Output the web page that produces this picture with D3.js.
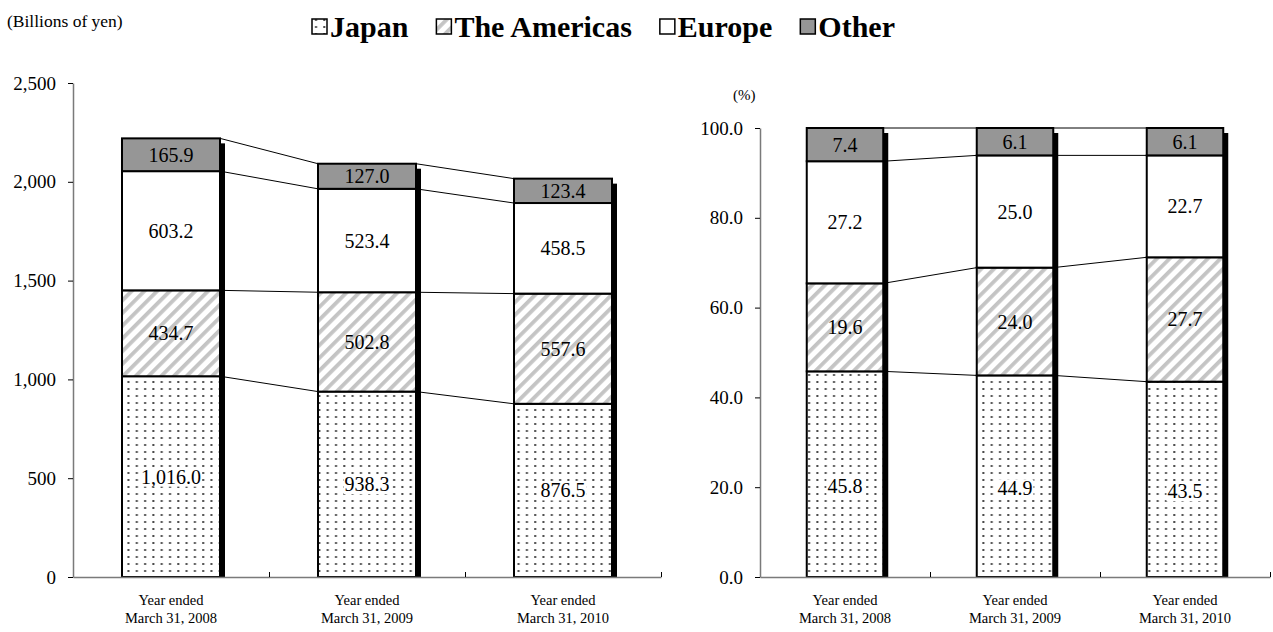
<!DOCTYPE html>
<html>
<head>
<meta charset="utf-8">
<script src="https://cdn.jsdelivr.net/npm/d3@7"></script>
<style>
  body { margin: 0; background: #fff; }
  svg { display: block; font-family: "Liberation Serif", "Times New Roman", serif; }
</style>
</head>
<body>
<svg id="chart" width="1273" height="632"></svg>
<script>
// Data
const regions = ['Japan', 'The Americas', 'Europe', 'Other'];
const periods = ['March 31, 2008', 'March 31, 2009', 'March 31, 2010'];

// Sales, billions of yen
const japanYen = [1016.0, 938.3, 876.5];
const americasYen = [434.7, 502.8, 557.6];
const europeYen = [603.2, 523.4, 458.5];
const otherYen = [165.9, 127.0, 123.4];

// Composition, %
const japanPct = [45.8, 44.9, 43.5];
const americasPct = [19.6, 24.0, 27.7];
const europePct = [27.2, 25.0, 22.7];
const otherPct = [7.4, 6.1, 6.1];

const yenTicks = [0, 500, 1000, 1500, 2000, 2500];
const pctTicks = [0, 20, 40, 60, 80, 100];

const fills = ['url(#dots)', 'url(#hatch)', '#ffffff', '#969696'];

const svg = d3.select('#chart');

// patterns
const defs = svg.append('defs');
const dots = defs.append('pattern').attr('id', 'dots')
    .attr('patternUnits', 'userSpaceOnUse').attr('width', 8.3).attr('height', 7);
dots.append('rect').attr('width', 8.3).attr('height', 7).attr('fill', '#fff');
dots.append('rect').attr('x', 3).attr('y', 3).attr('width', 2).attr('height', 2).attr('fill', '#4a4a4a');

const hatch = defs.append('pattern').attr('id', 'hatch')
    .attr('patternUnits', 'userSpaceOnUse').attr('width', 9).attr('height', 9)
    .attr('patternTransform', 'rotate(45)');
hatch.append('rect').attr('width', 9).attr('height', 9).attr('fill', '#fff');
hatch.append('rect').attr('x', 0).attr('width', 3.8).attr('height', 9).attr('fill', '#c4c4c4');

// build rows for d3.stack
function makeRows(series) {
    return periods.map((p, i) => {
        const row = { period: p };
        regions.forEach((r, k) => { row[r] = series[k][i]; });
        return row;
    });
}

function drawChart(opts) {
    const rows = makeRows(opts.series);
    const stacked = d3.stack().keys(regions)(rows);

    const x = d3.scaleBand().domain(periods).range([opts.left, opts.right])
        .paddingInner(opts.pad).paddingOuter(opts.pad / 2);
    const y = d3.scaleLinear().domain([0, opts.max]).range([opts.bottom, opts.top]);
    const bw = x.bandwidth();

    const g = svg.append('g');

    // connector lines between bars
    const conn = g.append('g');
    for (let i = 0; i < periods.length - 1; i++) {
        stacked.forEach(layer => {
            conn.append('line')
                .attr('x1', x(periods[i]) + bw).attr('x2', x(periods[i + 1]))
                .attr('y1', y(layer[i][1])).attr('y2', y(layer[i + 1][1]))
                .attr('stroke', '#000').attr('stroke-width', 1);
        });
    }

    // shadows
    const top = stacked[stacked.length - 1];
    g.append('g').selectAll('rect').data(top).join('rect')
        .attr('x', d => x(d.data.period) + bw)
        .attr('y', d => y(d[1]) + 5)
        .attr('width', 5)
        .attr('height', d => opts.bottom - y(d[1]) - 5)
        .attr('fill', '#000');

    // segments
    stacked.forEach((layer, k) => {
        g.append('g').selectAll('rect').data(layer).join('rect')
            .attr('x', d => x(d.data.period))
            .attr('y', d => y(d[1]))
            .attr('width', bw)
            .attr('height', d => y(d[0]) - y(d[1]))
            .attr('fill', fills[k])
            .attr('stroke', '#000').attr('stroke-width', 2);
    });

    // labels
    stacked.forEach((layer, k) => {
        layer.forEach(d => {
            const cx = x(d.data.period) + bw / 2;
            const cy = (y(d[0]) + y(d[1])) / 2 + (k === 0 ? opts.japanShift : 0);
            const t = g.append('text')
                .attr('x', cx).attr('y', cy).attr('dy', '0.35em')
                .attr('text-anchor', 'middle')
                .style('font-size', '20px')
                .text(opts.fmt(d.data[regions[k]]));
            if (k === 0) {
                const b = t.node().getBBox();
                g.insert('rect', () => t.node())
                    .attr('x', b.x - 1).attr('y', b.y + 2)
                    .attr('width', b.width + 2).attr('height', b.height - 3)
                    .attr('fill', '#fff');
            }
        });
    });

    // y axis
    const yAxis = d3.axisLeft(y).tickValues(opts.ticks).tickFormat(opts.tickFmt)
        .tickSizeInner(5).tickSizeOuter(0).tickPadding(12);
    const ya = g.append('g').attr('transform', `translate(${opts.left},0)`).call(yAxis);
    ya.attr('font-family', null).attr('font-size', null);
    ya.select('.domain').attr('stroke', '#7a7a7a').attr('stroke-width', 1.5);
    ya.selectAll('.tick line').attr('stroke', '#000');
    ya.selectAll('text').style('font-size', '19px').attr('fill', '#000');

    // x axis with ticks at band boundaries
    const xb = d3.scaleLinear().domain([0, periods.length]).range([opts.left, opts.right]);
    const xAxis = d3.axisBottom(xb).tickValues(d3.range(1, periods.length + 1))
        .tickSize(-5).tickSizeOuter(0).tickFormat('');
    const xa = g.append('g').attr('transform', `translate(0,${opts.bottom})`).call(xAxis);
    xa.select('.domain').attr('stroke', '#7a7a7a').attr('stroke-width', 1.5);
    xa.selectAll('.tick line').attr('stroke', '#000');

    // category labels
    periods.forEach(p => {
        const t = g.append('text')
            .attr('x', x(p) + bw / 2).attr('y', opts.bottom + 28)
            .attr('text-anchor', 'middle').style('font-size', '14.5px');
        t.append('tspan').attr('x', x(p) + bw / 2).text('Year ended');
        t.append('tspan').attr('x', x(p) + bw / 2).attr('dy', 18).text(p);
    });

    // unit label
    g.append('text').attr('x', opts.unitX).attr('y', opts.unitY)
        .style('font-size', opts.unitSize).text(opts.unit);
}

drawChart({
    series: [japanYen, americasYen, europeYen, otherYen],
    left: 73, right: 661, top: 83, bottom: 577, max: 2500, pad: 0.5,
    ticks: yenTicks, tickFmt: d3.format(','), fmt: d3.format(',.1f'),
    japanShift: 0,
    unit: '(Billions of yen)', unitX: 7, unitY: 27, unitSize: '17.5px'
});

drawChart({
    series: [japanPct, americasPct, europePct, otherPct],
    left: 760, right: 1270, top: 128, bottom: 577, max: 100, pad: 0.55,
    ticks: pctTicks, tickFmt: d3.format('.1f'), fmt: d3.format('.1f'),
    japanShift: 12,
    unit: '(%)', unitX: 733, unitY: 100, unitSize: '15px'
});

// legend
const legend = svg.append('g').attr('transform', 'translate(312,37)');
let lx = 0;
regions.forEach((r, k) => {
    legend.append('rect').attr('x', lx).attr('y', -18).attr('width', 15).attr('height', 15)
        .attr('fill', fills[k]).attr('stroke', '#000').attr('stroke-width', 1.5);
    const t = legend.append('text').attr('x', lx + 18).attr('y', 0)
        .style('font-size', '30px').style('font-weight', 'bold').text(r);
    lx += 18 + t.node().getComputedTextLength() + 28;
});
</script>
</body>
</html>
